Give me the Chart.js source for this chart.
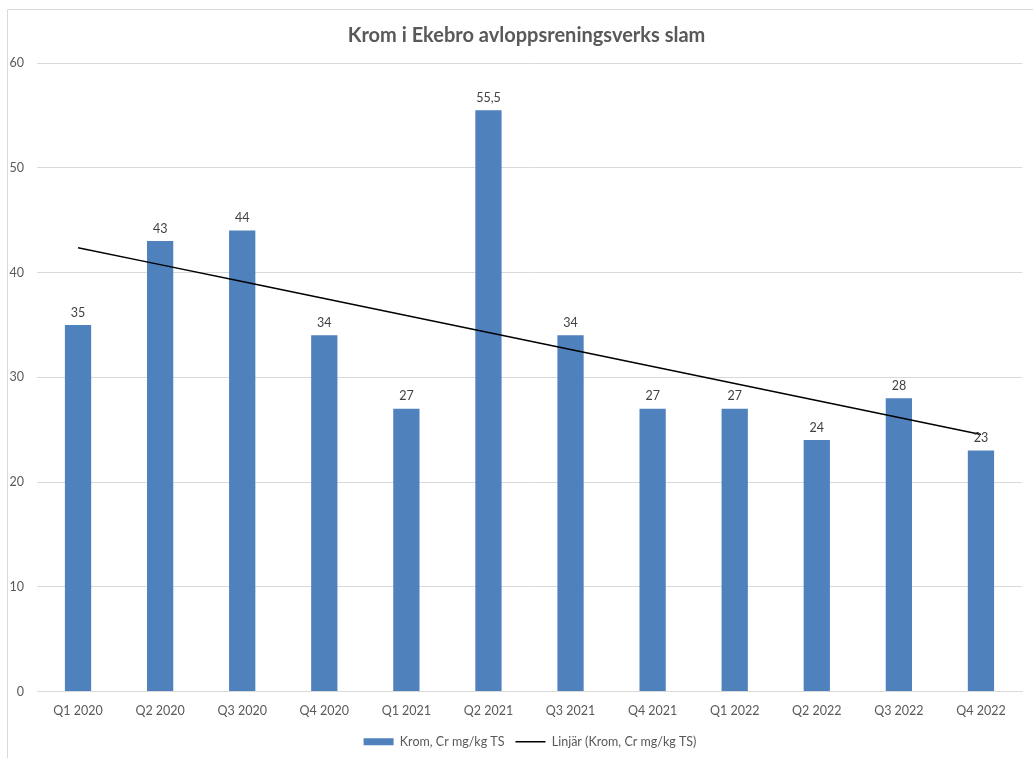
<!DOCTYPE html>
<html>
<head>
<meta charset="utf-8">
<script src="https://cdn.jsdelivr.net/npm/chart.js@4.4.1/dist/chart.umd.min.js"></script>
<style>
  html, body { margin: 0; padding: 0; background: #fff; }
  #wrap { width: 1033px; height: 758px; }
</style>
</head>
<body>
<div id="wrap"><canvas id="myChart"></canvas></div>
<script>
const quarters = [
    'Q1 2020', 'Q2 2020', 'Q3 2020', 'Q4 2020',
    'Q1 2021', 'Q2 2021', 'Q3 2021', 'Q4 2021',
    'Q1 2022', 'Q2 2022', 'Q3 2022', 'Q4 2022'
];
const krom = [35, 43, 44, 34, 27, 55.5, 34, 27, 27, 24, 28, 23];
const yTicks = [0, 10, 20, 30, 40, 50, 60];
const chartTitle = 'Krom i Ekebro avloppsreningsverks slam';

// least squares trend line over the quarter index, like a spreadsheet "Linjär" trendline
function linearTrend(values) {
    const n = values.length;
    const xs = values.map((_, i) => i + 1);
    const mx = xs.reduce((a, b) => a + b, 0) / n;
    const my = values.reduce((a, b) => a + b, 0) / n;
    let sxy = 0, sxx = 0;
    xs.forEach((x, i) => {
        sxy += (x - mx) * (values[i] - my);
        sxx += (x - mx) * (x - mx);
    });
    const k = sxy / sxx;
    return xs.map(x => my + k * (x - mx));
}
const trend = linearTrend(krom);

const textColor = '#595959';
const gridColor = '#d9d9d9';
const fontFamily = 'Lato, "Open Sans", sans-serif';
Chart.defaults.font.family = fontFamily;
Chart.defaults.font.size = 12;
Chart.defaults.color = textColor;

// white background, thin frame along the left and top, and the title
const frame = {
    id: 'frame',
    afterLayout(chart) {
        // legend sits a little right of the canvas centre
        chart.legend.left += 38;
    },
    beforeDraw(chart) {
        const c = chart.ctx;
        c.save();
        c.fillStyle = '#fff';
        c.fillRect(0, 0, chart.width, chart.height);
        c.strokeStyle = gridColor;
        c.lineWidth = 1;
        c.beginPath();
        c.moveTo(7.5, chart.height);
        c.lineTo(7.5, 9.5);
        c.lineTo(chart.width, 9.5);
        c.stroke();
        c.fillStyle = textColor;
        c.font = 'bold 20px ' + fontFamily;
        c.textAlign = 'center';
        c.textBaseline = 'middle';
        c.fillText(chartTitle, (chart.width + 20) / 2, 36);
        c.restore();
    }
};

// value labels above the bars, decimal comma
const barLabels = {
    id: 'barLabels',
    afterDatasetsDraw(chart) {
        const c = chart.ctx;
        const meta = chart.getDatasetMeta(0);
        c.save();
        c.font = '12.5px ' + fontFamily;
        c.fillStyle = '#404040';
        c.textAlign = 'center';
        c.textBaseline = 'bottom';
        meta.data.forEach((bar, i) => {
            c.fillText(String(krom[i]).replace('.', ','), bar.x, bar.y - 6);
        });
        c.restore();
    }
};

new Chart(document.getElementById('myChart'), {
    data: {
        labels: quarters,
        datasets: [{
            type: 'bar',
            label: 'Krom, Cr mg/kg TS',
            data: krom,
            backgroundColor: '#4f81bd',
            borderWidth: 0,
            barPercentage: 0.32,
            categoryPercentage: 1,
            pointStyle: 'rect',
            order: 1
        }, {
            type: 'line',
            label: 'Linjär (Krom, Cr mg/kg TS)',
            data: trend,
            borderColor: '#000',
            backgroundColor: '#000',
            borderWidth: 1.5,
            pointRadius: 0,
            pointStyle: 'line',
            order: 0
        }]
    },
    options: {
        responsive: true,
        maintainAspectRatio: false,
        animation: false,
        layout: { padding: { left: 0, right: 11, top: 63, bottom: 0 } },
        scales: {
            x: {
                grid: { display: false },
                border: { display: true, color: gridColor },
                afterFit(scale) { scale.height += 2; },
                ticks: { color: textColor, padding: 4, maxRotation: 0, font: { size: 12.5 } }
            },
            y: {
                min: 0,
                max: 60,
                afterBuildTicks(scale) {
                    scale.ticks = yTicks.map(v => ({ value: v }));
                },
                afterFit(scale) { scale.width = 37; },
                grid: { color: gridColor, drawTicks: false },
                border: { display: false },
                ticks: { color: textColor, padding: 13, font: { size: 12.5 } }
            }
        },
        plugins: {
            title: { display: false },
            legend: {
                position: 'bottom',
                labels: {
                    usePointStyle: true,
                    pointStyleWidth: 30,
                    boxHeight: 7,
                    padding: 11,
                    color: textColor,
                    font: { size: 12.5 },
                    sort: (a, b) => a.datasetIndex - b.datasetIndex
                }
            },
            tooltip: { enabled: false }
        }
    },
    plugins: [frame, barLabels]
});
</script>
</body>
</html>
